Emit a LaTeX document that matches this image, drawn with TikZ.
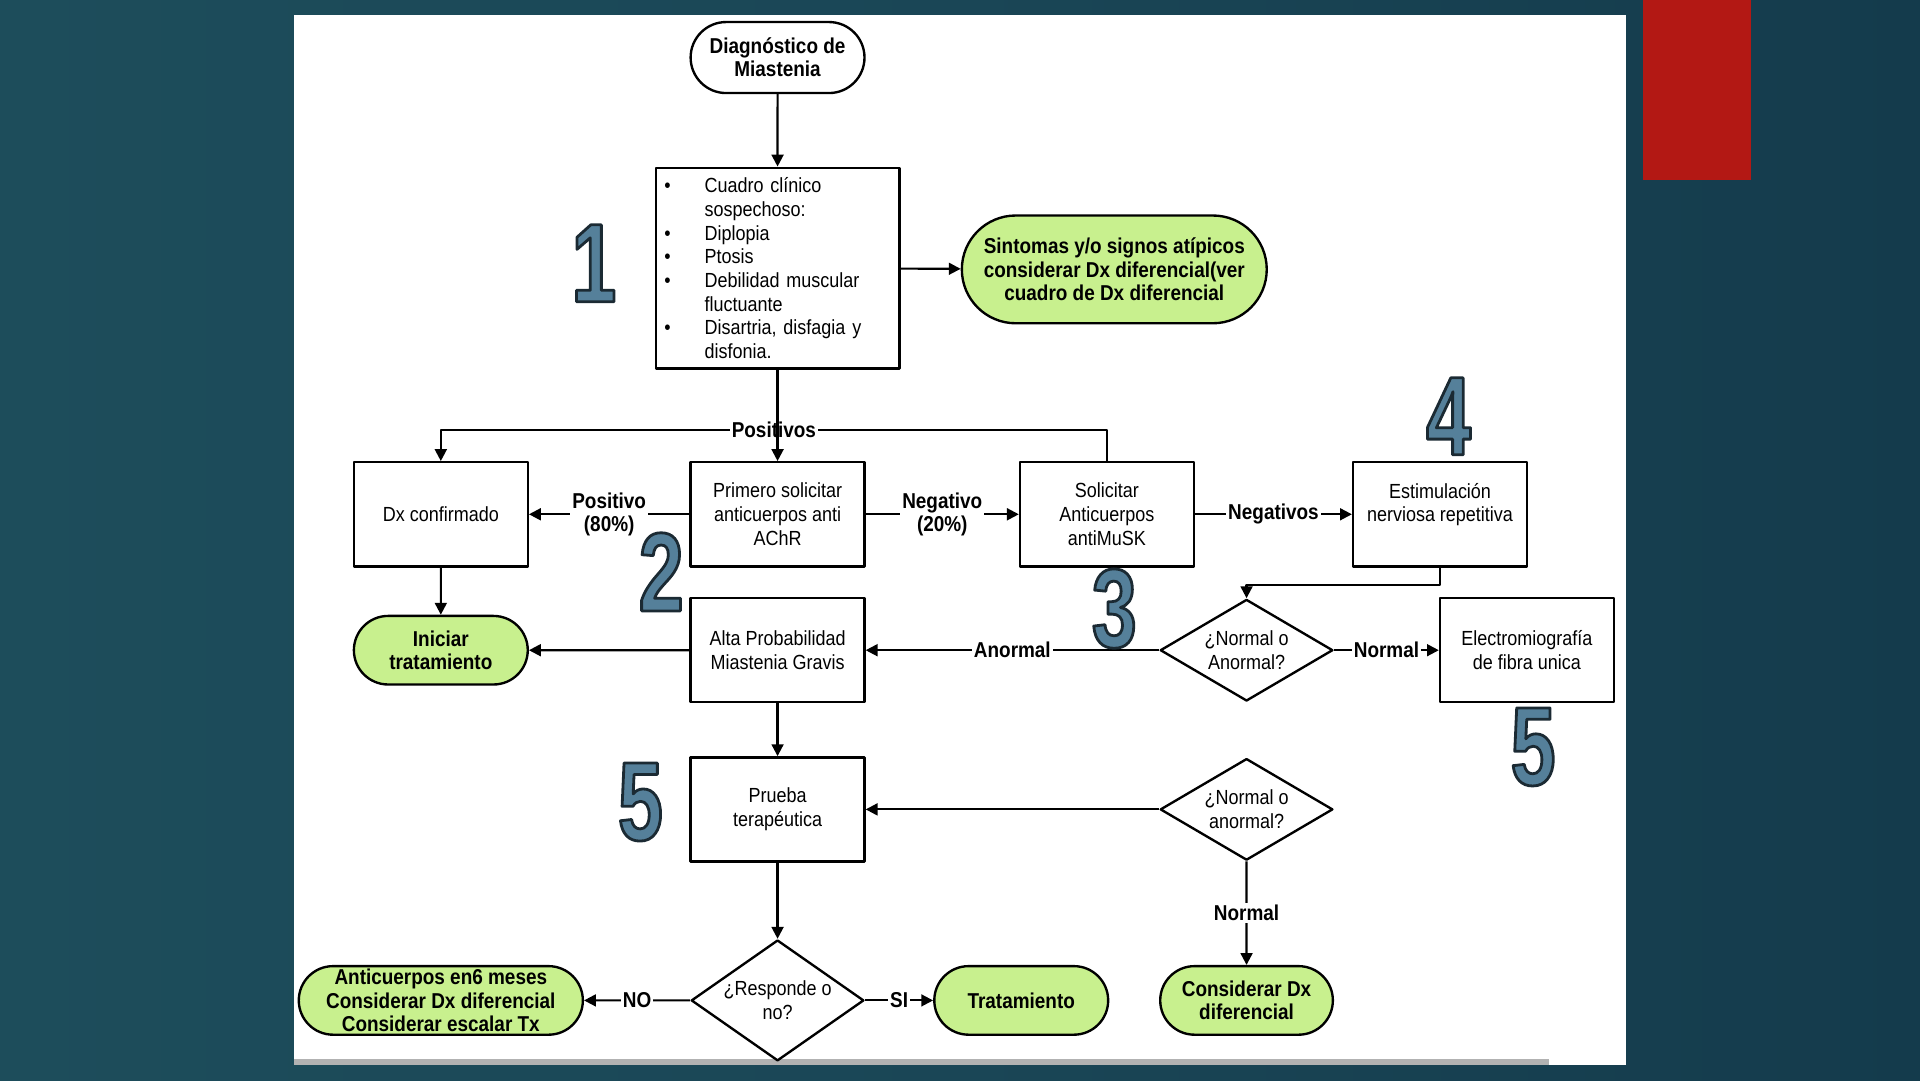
\documentclass[tikz,border=0pt]{standalone}
\usepackage{fontspec}
\setmainfont{Liberation Sans}[FakeStretch=0.88]
\newfontfamily\numfont{Liberation Sans}[FakeStretch=0.72]
\usetikzlibrary{shapes.geometric,shapes.misc,arrows.meta}
\definecolor{bgleft}{HTML}{1D4D5B}
\definecolor{bgmid}{HTML}{1A4656}
\definecolor{bgright}{HTML}{143B4C}
\definecolor{termgreen}{HTML}{C8F08E}
\definecolor{slidered}{HTML}{B31814}
\definecolor{numblue}{HTML}{55809A}
\newcommand{\cbul}{\makebox[0.66cm][l]{•}}
\newcommand{\cind}{\hspace*{0.66cm}}
% outlined digit (fill, then dark stroke)
\newcommand{\outlinedigit}[1]{\special{pdf:literal direct 2 Tr 1.3 w 0.106 0.165 0.2 RG}#1\special{pdf:literal direct 0 Tr}}
% big step numbers: name, position, digit
\newcommand{\stepnum}[3]{\node[numfront] (#1) at (#2) {\outlinedigit{#3}};}
\tikzset{
  proc/.style={draw, line width=1.1pt, fill=white, minimum width=2.84cm, minimum height=1.70cm,
    align=center, inner sep=2pt, font=\fontsize{9.5}{11}\selectfont},
  term/.style={draw, rounded rectangle, line width=1.1pt, fill=termgreen, align=center,
    inner sep=0pt, font=\bfseries\fontsize{10}{10.8}\selectfont},
  decision/.style={draw, diamond, line width=1.1pt, fill=white, minimum width=2.82cm, minimum height=1.66cm,
    inner sep=-3pt, align=center, font=\fontsize{9.5}{11}\selectfont},
  lbl/.style={fill=white, inner sep=1pt, align=center, font=\bfseries\fontsize{10}{10.8}\selectfont},
  conn/.style={line width=1pt, -{Triangle[length=5.5pt,width=5.5pt]}},
  numfront/.style={text=numblue, font=\numfont\bfseries\fontsize{52}{52}\selectfont, inner sep=0pt}
}
\begin{document}
\begin{tikzpicture}[x=2cm, y=-2cm, line join=round]
\useasboundingbox (0,0) rectangle (15.68,8.82);
% slide
\shade[left color=bgleft, right color=bgright, middle color=bgmid] (0,0) rectangle (15.68,8.82);
\fill[white] (2.40,0.12) rectangle (13.28,8.70);
\fill[black!30] (2.40,8.65) rectangle (12.65,8.70);
\fill[slidered] (13.42,0) rectangle (14.30,1.47);

% nodes
\node[draw, rounded rectangle, line width=1.1pt, fill=white, minimum width=2.84cm, minimum height=1.16cm,
  align=center, inner sep=0pt, font=\bfseries\fontsize{10}{10.8}\selectfont] (start) at (6.35,0.47) {Diagnóstico de\\Miastenia};
\node[proc, minimum width=3.98cm, minimum height=3.28cm, text width=3.70cm, align=left, inner xsep=0.14cm] (cuadro) at (6.35,2.19)
  {\cbul Cuadro clínico\\\cind sospechoso:\\\cbul Diplopia\\\cbul Ptosis\\\cbul Debilidad muscular\\\cind fluctuante\\\cbul Disartria, disfagia y\\\cind disfonia.};
\node[term, minimum width=4.98cm, minimum height=1.76cm] (sint) at (9.10,2.20)
  {Sintomas y/o signos atípicos\\considerar Dx diferencial(ver\\cuadro de Dx diferencial};
\node[proc] (dx) at (3.60,4.20) {Dx confirmado};
\node[proc] (primero) at (6.35,4.20) {Primero solicitar\\anticuerpos anti\\AChR};
\node[proc] (solic) at (9.04,4.20) {Solicitar\\Anticuerpos\\antiMuSK};
\node[proc] (estim) at (11.76,4.20) {Estimulación\\nerviosa repetitiva\\\mbox{}};
\node[term, minimum width=2.84cm, minimum height=1.12cm] (inic) at (3.60,5.31) {Iniciar\\tratamiento};
\node[proc] (alta) at (6.35,5.31) {Alta Probabilidad\\Miastenia Gravis};
\node[decision] (d1) at (10.18,5.31) {¿Normal o\\Anormal?};
\node[proc] (emg) at (12.47,5.31) {Electromiografía\\de fibra unica};
\node[proc] (prueba) at (6.35,6.61) {Prueba\\terapéutica};
\node[decision] (d2) at (10.18,6.61) {¿Normal o\\anormal?};
\node[decision] (resp) at (6.35,8.17) {¿Responde o\\no?};
\node[term, minimum width=4.64cm, minimum height=1.12cm] (antic) at (3.60,8.17)
  {Anticuerpos en6 meses\\Considerar Dx diferencial\\Considerar escalar Tx};
\node[term, minimum width=2.84cm, minimum height=1.12cm] (trat) at (8.34,8.17) {Tratamiento};
\node[term, minimum width=2.82cm, minimum height=1.12cm] (consid) at (10.18,8.17) {Considerar Dx\\diferencial};
\coordinate (posy) at (6.35,3.51);

% connectors
\draw[conn] (start) -- (cuadro);
\draw[conn] (cuadro) -- (sint);
\draw[conn] (solic.north) -- (solic.north |- posy) -- node[lbl]{Positivos} (dx.north |- posy) -- (dx.north);
\draw[conn] (cuadro) -- (primero);
\draw[conn] (primero) -- node[lbl]{Positivo\\(80\%)} (dx);
\draw[conn] (primero) -- node[lbl]{Negativo\\(20\%)} (solic);
\draw[conn] (solic) -- node[lbl]{Negativos} (estim);
\draw[conn] (estim.south) -- ++(0,0.14) -| (d1.north);
\draw[conn] (d1) -- node[lbl]{Anormal} (alta);
\draw[conn] (d1) -- node[lbl]{Normal} (emg);
\draw[conn] (dx) -- (inic);
\draw[conn] (alta) -- (inic);
\draw[conn] (alta) -- (prueba);
\draw[conn] (d2) -- (prueba);
\draw[conn] (d2) -- node[lbl]{Normal} (consid);
\draw[conn] (prueba) -- (resp);
\draw[conn] (resp) -- node[lbl]{NO} (antic);
\draw[conn] (resp) -- node[lbl]{SI} (trat);

% step numbers
\stepnum{num1}{4.85,2.15}{1}
\stepnum{num2}{5.40,4.67}{2}
\stepnum{num3}{9.10,4.97}{3}
\stepnum{num4}{11.83,3.40}{4}
\stepnum{num5a}{12.52,6.10}{5}
\stepnum{num5b}{5.23,6.55}{5}
\end{tikzpicture}
\end{document}
